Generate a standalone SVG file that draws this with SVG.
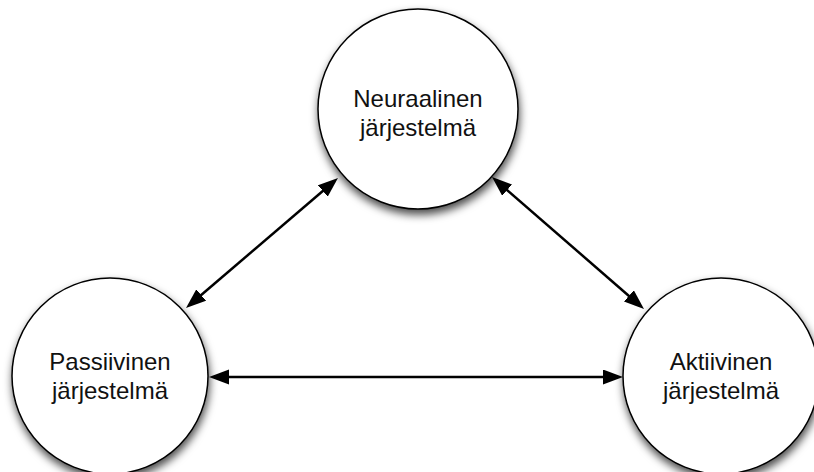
<svg xmlns="http://www.w3.org/2000/svg" width="814" height="472" viewBox="0 0 814 472">
<style>
.node circle{fill:#fff;stroke:#000;stroke-width:1.5;filter:url(#sh)}
.node text{font-family:"Liberation Sans",Arial,Helvetica,sans-serif;font-size:24px;fill:#111;text-anchor:middle}
.conn line{stroke:#000;stroke-width:2.5;marker-start:url(#ah);marker-end:url(#ah)}
</style>
<defs>
<filter id="sh" x="-20%" y="-20%" width="140%" height="150%">
<feDropShadow dx="1" dy="5" stdDeviation="4" flood-color="#000" flood-opacity="0.7"/>
</filter>
<marker id="ah" markerUnits="userSpaceOnUse" markerWidth="22" markerHeight="18" refX="15" refY="7.5" orient="auto-start-reverse">
<path d="M0,0 L20,7.5 L0,15 z" fill="#000"/>
</marker>
</defs>
<rect width="814" height="472" fill="#fff"/>
<g id="connectors" class="conn">
<line x1="189.8" y1="304.75" x2="334.2" y2="181.25"/>
<line x1="495.8" y1="180.3" x2="640.2" y2="305.7"/>
<line x1="214" y1="377" x2="618" y2="377"/>
</g>
<g id="neuraalinen" class="node">
<circle cx="418" cy="109" r="100"/>
<text x="418" y="107">Neuraalinen</text>
<text x="418" y="136">järjestelmä</text>
</g>
<g id="passiivinen" class="node">
<circle cx="110" cy="376" r="98"/>
<text x="110" y="370">Passiivinen</text>
<text x="110" y="399">järjestelmä</text>
</g>
<g id="aktiivinen" class="node">
<circle cx="721" cy="376" r="98"/>
<text x="721" y="370">Aktiivinen</text>
<text x="721" y="399">järjestelmä</text>
</g>
</svg>
